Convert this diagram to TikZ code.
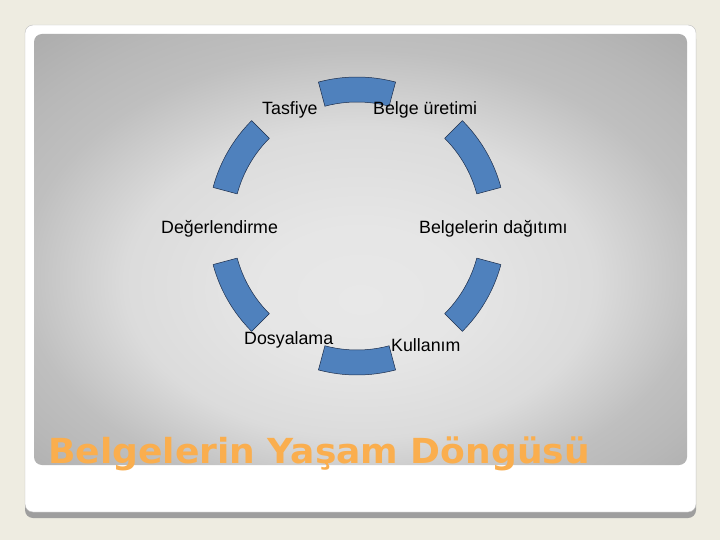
\documentclass[tikz,border=0pt]{standalone}
\usepackage{fontspec}
\setmainfont{Liberation Sans}
\newfontfamily\titlefont{DejaVu Sans}
\usetikzlibrary{positioning}
\definecolor{slidetan}{RGB}{238,236,225}
\definecolor{segblue}{RGB}{79,129,189}
\definecolor{segline}{RGB}{28,45,75}
\definecolor{titleorange}{RGB}{250,174,78}
\pgfdeclareradialshading{slideshade}{\pgfpoint{0bp}{-6bp}}{%
  color(0bp)=(black!9); color(8bp)=(black!10); color(18bp)=(black!14);
  color(26bp)=(black!25); color(31bp)=(black!28); color(40bp)=(black!35);
  color(50bp)=(black!36)}

\begin{document}
\begin{tikzpicture}[
      x=1pt, y=1pt,
      every node/.append style={font=\fontsize{17.8}{20}\selectfont},
      stage/.style={anchor=base west, inner sep=0pt, text=black},
      segment/.style={fill=segblue, draw=segline, line width=0.5pt},
    ]
      \useasboundingbox (0,0) rectangle (720,-540);
      \fill[slidetan] (0,0) rectangle (720,-540);
      % card with shadow
      \fill[black!38, rounded corners=8pt] (25,-31) rectangle (696,-518);
      \filldraw[fill=white, draw=black!25, rounded corners=8pt] (25,-25) rectangle (696,-512);
      \shade[shading=slideshade, rounded corners=8pt] (34,-34) rectangle (687,-465);
      % ring of segments
      \begin{scope}[shift={(357,-226)}]
        \foreach \a in {90,30,-30,-90,-150,150}
          \filldraw[segment] (\a-15:124) -- (\a-15:149)
            arc[start angle=\a-15, end angle=\a+15, radius=149]
            -- (\a+15:124)
            arc[start angle=\a+15, end angle=\a-15, radius=124] -- cycle;
      \end{scope}
      % stage labels
      \node[stage] (tasfiye) at (262,-115) {Tasfiye};
      \node[stage] (uretim) at (373,-115) {Belge üretimi};
      \node[stage] (degerlendirme) at (161,-233.5) {Değerlendirme};
      \node[stage] (dagitim) at (419,-233.5) {Belgelerin dağıtımı};
      \node[stage] (dosyalama) at (244,-344.5) {Dosyalama};
      \node[stage] (kullanim) at (391,-351) {Kullanım};
      % title
      \node[anchor=base west, inner sep=0pt, text=titleorange,
            font=\titlefont\bfseries\fontsize{34.5}{40}\selectfont] (title) at (48,-463)
            {\scalebox{1.045}[1]{Belgelerin Yaşam Döngüsü}};
    \end{tikzpicture}
\end{document}
